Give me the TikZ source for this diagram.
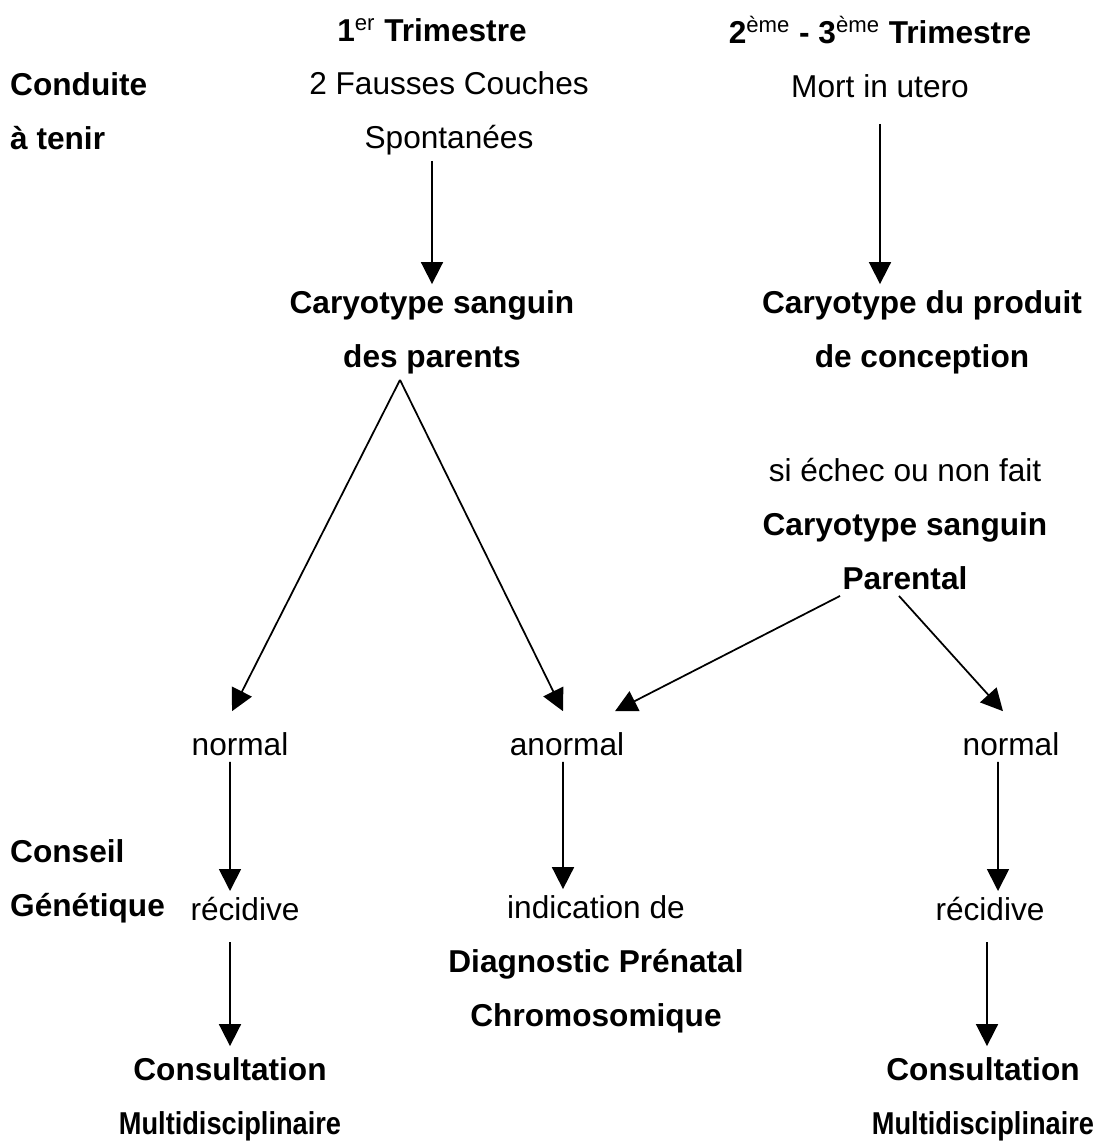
\documentclass[tikz,border=0pt]{standalone}
\usepackage{fontspec}
\setmainfont{Liberation Sans}
\usepackage{tikz}
\usetikzlibrary{arrows.meta}
\usetikzlibrary{positioning}

\newcommand{\etroit}[1]{\scalebox{0.86}[1]{#1}}

\tikzset{
	txt/.style={font=\fontsize{18}{30.7}\selectfont, align=center},
	bld/.style={txt, font=\fontsize{18}{30.7}\selectfont\bfseries},
	fleche/.style={line width=1pt, -{Triangle[length=0.44cm,width=0.44cm]}}
}

\begin{document}
\begin{tikzpicture}[x=0.02cm, y=-0.02cm]
	\useasboundingbox (0,0) rectangle (1104,1143);
	% en-tetes
	\node[bld] (Trimestre1) at (432, 30) {1\textsuperscript{\mdseries er} Trimestre};
	\node[bld] (Trimestre23) at (880, 30) {2\textsuperscript{\mdseries ème} - 3\textsuperscript{\mdseries ème} Trimestre};
	\node[bld, align=left, anchor=west] (Conduite) at (4, 111) {Conduite\\à tenir};
	\node[txt] (FaussesCouches) at (449, 113) {2 Fausses Couches\\Spontanées};
	\node[txt] (Mort) at (880, 86) {Mort in utero};
	% caryotypes
	\node[bld] (CarySang) at (432, 332) {Caryotype sanguin\\des parents};
	\node[bld] (CaryProduit) at (922, 332) {Caryotype du produit\\de conception};
	\node[txt] (Echec) at (905, 524) {si échec ou non fait\\\textbf{Caryotype sanguin}\\\textbf{Parental}};
	% resultats
	\node[txt] (NormalA) at (240, 744) {normal};
	\node[txt] (Anormal) at (567, 744) {anormal};
	\node[txt] (NormalB) at (1011, 744) {normal};
	\node[bld, align=left, anchor=west] (Conseil) at (4, 881) {Conseil\\Génétique};
	\node[txt] (RecidiveA) at (245, 909) {récidive};
	\node[txt] (Indication) at (596, 964) {indication de\\\textbf{Diagnostic Prénatal}\\\textbf{Chromosomique}};
	\node[txt] (RecidiveB) at (990, 909) {récidive};
	\node[bld] (ConsultA) at (230, 1099) {Consultation\\\etroit{Multidisciplinaire}};
	\node[bld] (ConsultB) at (983, 1099) {Consultation\\\etroit{Multidisciplinaire}};
	% fleches
	\draw[fleche] (FaussesCouches.south -| CarySang.north) -- (CarySang.north);
	\draw[fleche] ([yshift=-0.4cm]Mort.south) -- (Mort.south |- CaryProduit.north);
	\draw[fleche] ([xshift=-0.64cm]CarySang.south) -- ([xshift=-0.16cm, yshift=0.3cm]NormalA.north);
	\draw[fleche] ([xshift=-0.64cm]CarySang.south) -- ([xshift=-0.08cm, yshift=0.3cm]Anormal.north);
	\draw[fleche] ([xshift=-1.3cm]Echec.south) -- ([xshift=0.96cm, yshift=0.3cm]Anormal.north);
	\draw[fleche] ([xshift=-0.12cm]Echec.south) -- ([xshift=-0.16cm, yshift=0.3cm]NormalB.north);
	\draw[fleche] ([xshift=-0.2cm]NormalA.south) -- ([xshift=-0.3cm]RecidiveA.north);
	\draw[fleche] ([xshift=-0.08cm]Anormal.south) -- ([xshift=-0.66cm]Indication.north);
	\draw[fleche] ([xshift=-0.26cm]NormalB.south) -- ([xshift=0.16cm]RecidiveB.north);
	\draw[fleche] ([xshift=-0.3cm, yshift=-0.3cm]RecidiveA.south) -- ([yshift=0.1cm]ConsultA.north);
	\draw[fleche] ([xshift=-0.06cm, yshift=-0.3cm]RecidiveB.south) -- ([xshift=0.08cm, yshift=0.1cm]ConsultB.north);
\end{tikzpicture}
\end{document}
